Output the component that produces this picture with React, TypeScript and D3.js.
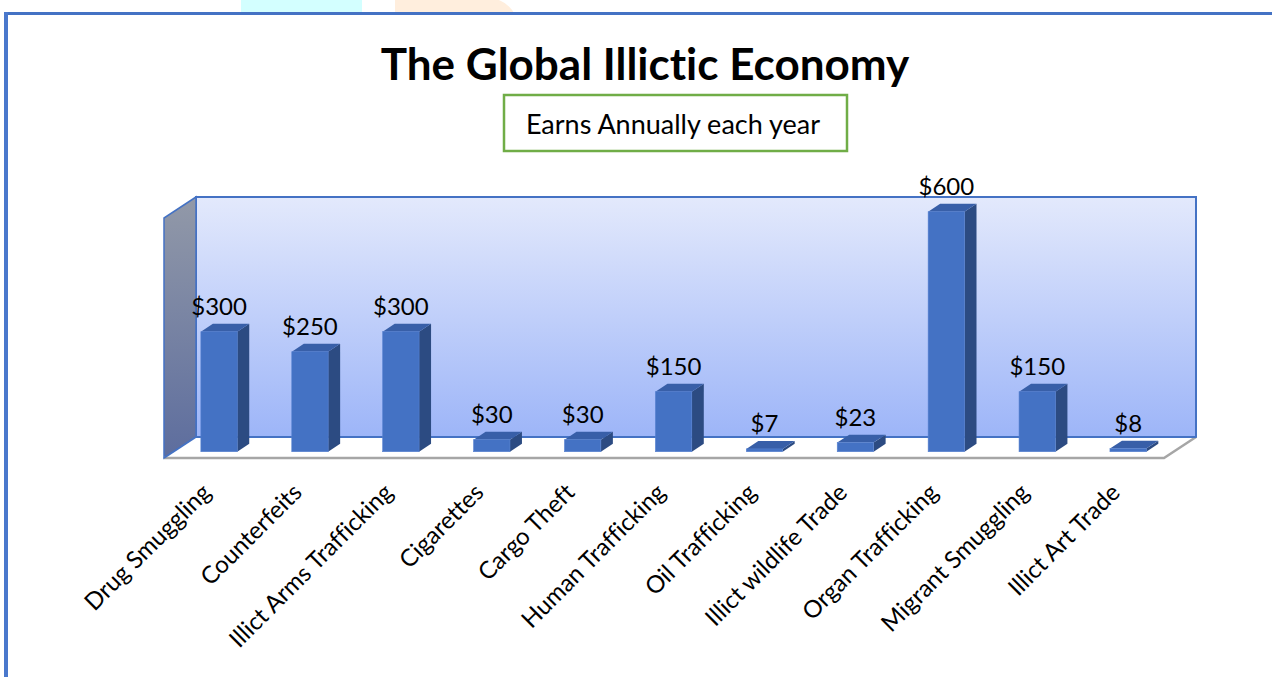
import * as d3 from 'd3';

// chart data
const categories = [
  'Drug Smuggling',
  'Counterfeits',
  'Illict Arms Trafficking',
  'Cigarettes',
  'Cargo Theft',
  'Human Trafficking',
  'Oil Trafficking',
  'Illict wildlife Trade',
  'Organ Trafficking',
  'Migrant Smuggling',
  'Illict Art Trade',
];
const values = [300, 250, 300, 30, 30, 150, 7, 23, 600, 150, 8];
const axisMax = 600;

const W = 1272;
const H = 677;
const FONT = 'Lato, "Open Sans", sans-serif';

// plot box (front edge of the floor) and 3D depth vector
const floorLeft = 164;
const floorRight = 1164;
const floorY = 458;
const depth = { dx: 32, dy: -21 };
const barT0 = 0.3; // front face of bars, as a share of the depth
const barT = 0.375; // bar depth

const pt = (x: number, y: number, t: number): [number, number] => [x + depth.dx * t, y + depth.dy * t];
const poly = (pts: [number, number][]) => pts.map((p) => p.join(',')).join(' ');

export default function App() {
  const x = d3.scaleBand<string>().domain(categories).range([floorLeft, floorRight]);
  const h = d3.scaleLinear().domain([0, axisMax]).range([0, 240]);
  const bw = x.bandwidth() * 0.4;
  const wallH = h(axisMax);

  const backL = pt(floorLeft, floorY, 1);
  const backR = pt(floorRight, floorY, 1);

  return (
    <svg
      width={W}
      height={H}
      viewBox={`0 0 ${W} ${H}`}
      style={{
        position: 'absolute',
        left: 0,
        top: 0,
        background: '#fff',
        fontVariantLigatures: 'none',
        fontFeatureSettings: '"liga" 0',
      }}
    >
      <defs>
        <linearGradient id="backWall" x1="0" y1="0" x2="0" y2="1">
          <stop offset="0%" stopColor="#E3E9FC" />
          <stop offset="100%" stopColor="#9DB5F8" />
        </linearGradient>
        <linearGradient id="sideWall" x1="0" y1="0" x2="0" y2="1">
          <stop offset="0%" stopColor="#9299A8" />
          <stop offset="100%" stopColor="#5D6D9E" />
        </linearGradient>
        <clipPath id="topStrip">
          <rect x={0} y={0} width={W} height={13} />
        </clipPath>
      </defs>

      {/* decorative shapes peeking above the page border */}
      <g clipPath="url(#topStrip)">
        <rect x={241} y={-2} width={160} height={60} rx={30} fill="#D3FFFF" />
        <rect x={241} y={-2} width={121} height={60} fill="#D3FFFF" />
        <rect x={360} y={-2} width={158} height={60} rx={30} fill="#FFEEDD" />
        <rect x={395} y={-2} width={60} height={60} fill="#FFEEDD" />
        <rect x={362} y={-2} width={33} height={60} fill="#fff" />
      </g>

      {/* page border */}
      <line x1={4} x2={W} y1={13.5} y2={13.5} stroke="#4472C4" strokeWidth={3} />
      <line x1={6} x2={6} y1={12} y2={H} stroke="#4A78CC" strokeWidth={4} />

      {/* title */}
      <text
        x={645}
        y={80}
        textAnchor="middle"
        fontFamily={FONT}
        fontWeight={700}
        fontSize={44}
        fill="#000"
      >
        The Global Illictic Economy
      </text>

      {/* legend box */}
      <rect x={504} y={95} width={343} height={56} fill="#fff" stroke="#70AD47" strokeWidth={2.5} />
      <text x={673} y={134} textAnchor="middle" fontFamily={FONT} fontSize={27} fill="#000">
        Earns Annually each year
      </text>

      {/* back wall */}
      <rect
        x={backL[0]}
        y={backL[1] - wallH}
        width={backR[0] - backL[0]}
        height={wallH}
        fill="url(#backWall)"
        stroke="#4472C4"
        strokeWidth={2}
      />
      {/* side wall */}
      <polygon
        points={poly([
          [floorLeft, floorY],
          [floorLeft, floorY - wallH],
          [backL[0], backL[1] - wallH],
          backL,
        ])}
        fill="url(#sideWall)"
        stroke="#4472C4"
        strokeWidth={1.5}
      />
      {/* floor */}
      <polygon points={poly([[floorLeft, floorY], backL, backR, [floorRight, floorY]])} fill="#fff" />
      <polyline
        points={poly([[floorLeft, floorY], [floorRight, floorY], backR])}
        fill="none"
        stroke="#A6A6A6"
        strokeWidth={2.5}
      />
      <line x1={backL[0]} x2={backR[0]} y1={backL[1]} y2={backR[1]} stroke="#4472C4" strokeWidth={2} />
      <line x1={floorLeft} x2={backL[0]} y1={floorY} y2={backL[1]} stroke="#4472C4" strokeWidth={1.5} />

      {/* bars */}
      {categories.map((c, i) => {
        const cx = (x(c) ?? 0) + x.bandwidth() / 2;
        const [fx, fy] = pt(cx - bw / 2, floorY, barT0);
        const bh = h(values[i]);
        const top = fy - bh;
        const ddx = depth.dx * barT;
        const ddy = depth.dy * barT;
        return (
          <g key={c}>
            <polygon
              points={poly([
                [fx + bw, fy],
                [fx + bw, top],
                [fx + bw + ddx, top + ddy],
                [fx + bw + ddx, fy + ddy],
              ])}
              fill="#2C4B82"
            />
            <polygon
              points={poly([
                [fx, top],
                [fx + bw, top],
                [fx + bw + ddx, top + ddy],
                [fx + ddx, top + ddy],
              ])}
              fill="#385FA8"
            />
            <rect x={fx} y={top} width={bw} height={bh} fill="#4472C4" stroke="#5580D0" strokeWidth={0.6} />
            <text
              x={fx + bw / 2}
              y={top - 17}
              textAnchor="middle"
              fontFamily={FONT}
              fontSize={24}
              fill="#000"
            >
              ${values[i]}
            </text>
          </g>
        );
      })}

      {/* category labels */}
      {categories.map((c) => {
        const cx = (x(c) ?? 0) + x.bandwidth() / 2 - 3;
        return (
          <text
            key={c}
            transform={`translate(${cx},488) rotate(-45)`}
            textAnchor="end"
            dy="0.35em"
            fontFamily={FONT}
            fontSize={24}
            fill="#000"
          >
            {c}
          </text>
        );
      })}
    </svg>
  );
}
